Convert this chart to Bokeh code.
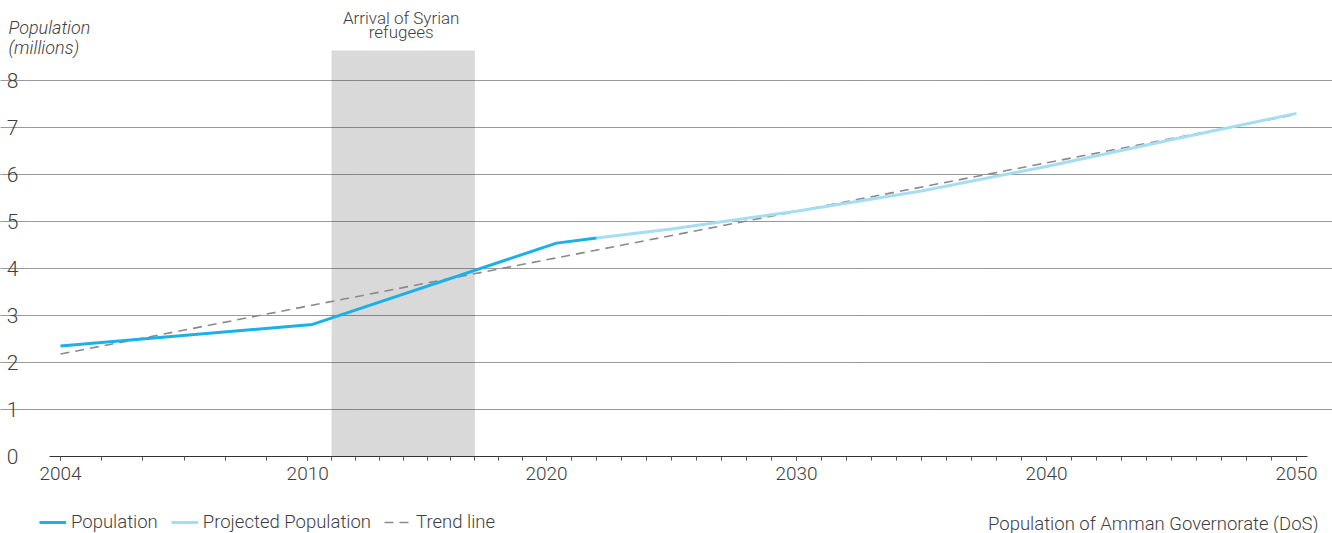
import numpy as np
from bokeh.plotting import figure
from bokeh.models import (ColumnDataSource, Range1d, FixedTicker, BoxAnnotation, Label,
                          Legend, LegendItem)
from bokeh.embed import file_html
from bokeh.resources import INLINE

# ---------------- data ----------------
pop_years = [2004, 2010.2, 2020.4, 2022]
pop_values = [2.35, 2.81, 4.54, 4.65]

proj_years = [2022, 2025, 2030, 2035, 2040, 2045, 2050]
proj_values = [4.65, 4.84, 5.22, 5.65, 6.17, 6.74, 7.30]

trend_years = [2004, 2050]
trend_values = [2.18, 7.28]

band_years = [2011, 2017]
band_label = ["Arrival of Syrian", "refugees"]

x_tick_years = [2004, 2010, 2020, 2030, 2040, 2050]
y_ticks = [0, 1, 2, 3, 4, 5, 6, 7, 8]
y_top = 8.64          # top of the plotting area (band height)

# piecewise axis scale of the original chart (year -> axis units)
AXIS_YEARS = [2004, 2010, 2020, 2050]
AXIS_UNITS = [0.0, 10.0, 19.66, 50.0]

FONT = "Roboto Light"
TXT = "#3f3f3f"
C_POP = "#1bb1e7"
C_PROJ = "#a5ddf2"
C_TREND = "#8a8a8a"


def pos(year):
    return float(np.interp(year, AXIS_YEARS, AXIS_UNITS))


X_LO, X_HI = -0.445, 50.445        # extent of axis line / grid

pop_src = ColumnDataSource(dict(x=[pos(y) for y in pop_years], y=pop_values))
proj_src = ColumnDataSource(dict(x=[pos(y) for y in proj_years], y=proj_values))
trend_src = ColumnDataSource(dict(x=[pos(y) for y in trend_years], y=trend_values))

p = figure(width=1332, height=533, output_backend="svg", toolbar_location=None,
           x_range=Range1d(-2.427, 51.456), y_range=Range1d(-1.638, 9.702),
           min_border_left=0, min_border_right=0, min_border_top=0, min_border_bottom=0)
p.outline_line_color = None
p.background_fill_color = "white"
p.border_fill_color = "white"

# band
band = BoxAnnotation(left=pos(band_years[0]), right=pos(band_years[1]), bottom=0, top=y_top,
                     fill_color="#d9d9d9", fill_alpha=1.0, line_color=None, level="image")
p.add_layout(band)

# lines
r_trend = p.line("x", "y", source=trend_src, line_color=C_TREND, line_width=1.6,
                 line_dash="9 6")
r_proj = p.line("x", "y", source=proj_src, line_color=C_PROJ, line_width=3)
r_pop = p.line("x", "y", source=pop_src, line_color=C_POP, line_width=3,
               line_join="round")

# x axis (drawn at y = 0 inside the frame)
xa = p.xaxis[0]
xa.fixed_location = 0
xa.bounds = (X_LO, X_HI)
xa.ticker = FixedTicker(ticks=[pos(y) for y in x_tick_years],
                        minor_ticks=[pos(y) for y in range(2004, 2051)])
xa.major_label_overrides = {pos(y): str(y) for y in x_tick_years}
xa.axis_line_color = "#333333"
xa.axis_line_width = 1.2
xa.major_tick_out = 4
xa.major_tick_in = 0
xa.minor_tick_out = 4
xa.minor_tick_in = 0
xa.major_tick_line_color = "#555555"
xa.minor_tick_line_color = "#555555"
xa.major_label_text_font = FONT
xa.major_label_text_font_size = "19px"
xa.major_label_text_color = TXT
xa.major_label_standoff = 6

# y axis (drawn at left end of the grid inside the frame)
ya = p.yaxis[0]
ya.fixed_location = X_LO
ya.ticker = FixedTicker(ticks=y_ticks)
ya.axis_line_color = None
ya.major_tick_line_color = None
ya.minor_tick_line_color = None
ya.major_label_text_font = FONT
ya.major_label_text_font_size = "21px"
ya.major_label_text_color = TXT
ya.major_label_standoff = 25

p.xgrid.grid_line_color = None
p.ygrid.ticker = FixedTicker(ticks=y_ticks[1:])
p.ygrid.bounds = (X_LO, X_HI)
p.ygrid.grid_line_color = "#333333"
p.ygrid.grid_line_dash = "1 1"
p.ygrid.grid_line_width = 1

# texts
p.add_layout(Label(x=8, y=506, x_units="screen", y_units="screen", text="Population",
                   text_font=FONT, text_font_size="18px", text_font_style="italic",
                   text_color=TXT, text_baseline="middle", text_align="left"))
p.add_layout(Label(x=8, y=486, x_units="screen", y_units="screen", text="(millions)",
                   text_font=FONT, text_font_size="18px", text_font_style="italic",
                   text_color=TXT, text_baseline="middle", text_align="left"))

band_mid = (pos(band_years[0]) + pos(band_years[1])) / 2
for txt, yy in zip(band_label, [516, 502]):
    p.add_layout(Label(x=band_mid, y=yy, x_units="data", y_units="screen", x_offset=-2,
                       text=txt, text_font=FONT, text_font_size="17px",
                       text_color=TXT, text_baseline="middle", text_align="center"))

p.add_layout(Label(x=1318, y=10, x_units="screen", y_units="screen",
                   text="Population of Amman Governorate (DoS)",
                   text_font=FONT, text_font_size="18.5px",
                   text_color=TXT, text_baseline="middle", text_align="right"))

legend = Legend(items=[LegendItem(label="Population", renderers=[r_pop]),
                       LegendItem(label="Projected Population", renderers=[r_proj]),
                       LegendItem(label="Trend line", renderers=[r_trend])],
                location=(39, 0), orientation="horizontal",
                padding=0, margin=0, spacing=13, glyph_width=27, glyph_height=20,
                label_height=20, label_standoff=5,
                label_text_font=FONT, label_text_font_size="18.5px",
                label_text_color=TXT,
                background_fill_alpha=0, border_line_color=None)
p.add_layout(legend)

open("out.html", "w").write(file_html(p, INLINE))
